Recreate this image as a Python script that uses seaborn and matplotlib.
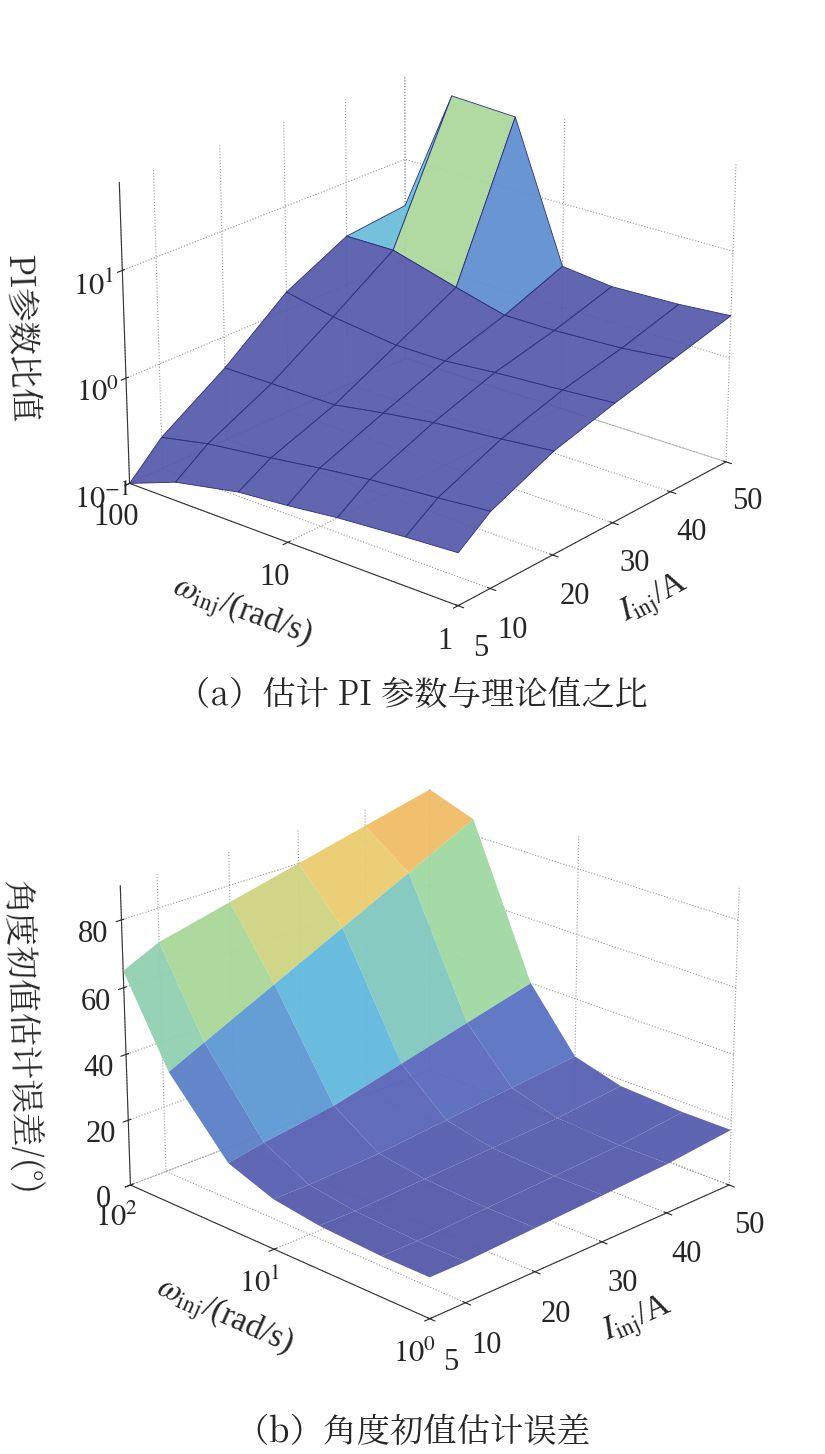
import numpy as np
import matplotlib
matplotlib.use("Agg")
import matplotlib.pyplot as plt
from matplotlib import font_manager as fm
import seaborn as sns
from matplotlib.colors import LinearSegmentedColormap

sns.set_style("white")
cands = [f for f in fm.findSystemFonts() if "CJK" in f]
def score(f):
    s = 0
    if "Serif" in f: s += 4
    if "Regular" in f: s += 3
    if "Bold" in f or "Black" in f or "Medium" in f or "Light" in f or "Thin" in f: s -= 10
    if "SC" in f: s += 1
    return s
cands.sort(key=score, reverse=True)
cjk = fm.FontProperties(fname=cands[0]) if cands else fm.FontProperties(family="Noto Sans CJK SC")
plt.rcParams["font.family"] = ["Liberation Serif"]
plt.rcParams["mathtext.fontset"] = "stix"

omega = [1, 2, 5, 10, 20, 50, 100]
I_inj = [5, 10, 20, 30, 40, 50]
ratio = [
    [0.30, 0.28, 0.25, 0.22, 0.20, 0.15, 0.10],
    [0.50, 0.45, 0.40, 0.35, 0.30, 0.25, 0.20],
    [0.90, 0.80, 0.70, 0.60, 0.50, 0.50, 0.50],
    [1.30, 1.20, 1.10, 1.00, 1.00, 1.20, 1.50],
    [1.80, 1.60, 1.50, 1.50, 2.00, 3.00, 3.00],
    [2.50, 2.30, 2.20, 2.50, 50.0, 55.0, 3.50],
]
angle_err = [
    [12, 12, 13, 15, 20, 40, 65],
    [12, 12, 13, 15, 22, 45, 70],
    [13, 13, 14, 16, 25, 55, 75],
    [14, 14, 15, 18, 30, 65, 80],
    [15, 15, 16, 20, 35, 75, 85],
    [17, 17, 18, 22, 40, 85, 90],
]

cmap = LinearSegmentedColormap.from_list(
    "parula_like", ["#5558a8", "#5a6cc0", "#5fb8e0", "#9fd8a0", "#e8d070", "#f5b060"])

fig = plt.figure(figsize=(8.25, 14.54), dpi=100)

X, Y = np.meshgrid(-np.log10(omega), np.array(I_inj, dtype=float))

def style(ax):
    for a in (ax.xaxis, ax.yaxis, ax.zaxis):
        a.set_pane_color((1, 1, 1, 0))
        a._axinfo["grid"].update(color="#999999", linestyle=":", linewidth=0.8)
        a.line.set_color("#333333")
    ax.tick_params(labelsize=22)
    ax.set_xticks([-2, -1, 0])
    ax.set_xlim(-2, 0)
    ax.set_ylim(5, 50)
    ax.zaxis.set_ticks_position("lower")
    ax.zaxis.set_label_position("lower")
    ax.yaxis.set_tick_params(pad=8)

# (a)
ax1 = fig.add_axes([0.06, 0.54, 0.9, 0.46], projection="3d")
Z1 = np.log10(np.array(ratio))
ax1.plot_surface(X, Y, Z1, cmap=cmap, vmin=0.3, vmax=1.5, edgecolor="#2a2f80",
                 linewidth=0.6, alpha=0.92)
style(ax1)
ax1.set_xticklabels(["100", "10", "1"])
ax1.set_yticks([5, 10, 20, 30, 40, 50])
ax1.set_zlim(-1, 1.8)
ax1.set_zticks([-1, 0, 1])
ax1.set_zticklabels([r"$10^{-1}$", r"$10^{0}$", r"$10^{1}$"])
ax1.set_xlabel(r"$\omega_{\rm inj}$/(rad/s)", fontsize=24, labelpad=18)
ax1.set_ylabel(r"$I_{\rm inj}$/A", fontsize=24, labelpad=20)
ax1.set_zlabel("PI参数比值", fontsize=24, labelpad=22, fontproperties=cjk)
ax1.zaxis.label.set_size(24)
ax1.view_init(elev=22, azim=-50)

fig.text(0.5, 0.515, "（a）估计 PI 参数与理论值之比", ha="center", fontsize=24,
         fontproperties=cjk).set_size(24)

# (b)
ax2 = fig.add_axes([0.06, 0.05, 0.9, 0.46], projection="3d")
Z2 = np.array(angle_err, dtype=float)
ax2.plot_surface(X, Y, Z2, cmap=cmap, vmin=12, vmax=90, linewidth=0,
                 antialiased=True, alpha=0.95)
style(ax2)
ax2.set_xticklabels([r"$10^{2}$", r"$10^{1}$", r"$10^{0}$"])
ax2.set_yticks([5, 10, 20, 30, 40, 50])
ax2.set_zlim(0, 90)
ax2.set_zticks([0, 20, 40, 60, 80])
ax2.set_xlabel(r"$\omega_{\rm inj}$/(rad/s)", fontsize=24, labelpad=18)
ax2.set_ylabel(r"$I_{\rm inj}$/A", fontsize=24, labelpad=20)
ax2.set_zlabel("角度初值估计误差/(°)", fontsize=24, labelpad=22, fontproperties=cjk)
ax2.zaxis.label.set_size(24)
ax2.view_init(elev=22, azim=-45)

fig.text(0.5, 0.008, "（b）角度初值估计误差", ha="center", fontsize=24,
         fontproperties=cjk).set_size(24)

fig.savefig("out.png", dpi=100)
